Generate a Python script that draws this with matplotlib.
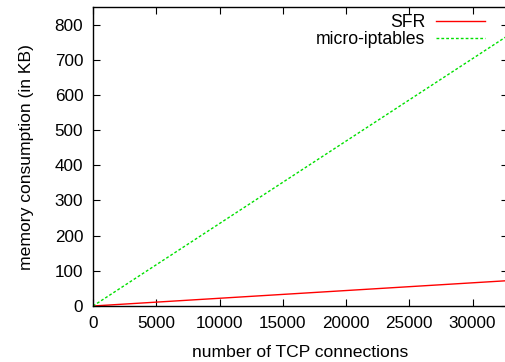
import matplotlib
matplotlib.use("Agg")
import matplotlib.pyplot as plt

plt.rcParams['font.family'] = ['Liberation Sans', 'DejaVu Sans']

connections = [0, 8192, 16384, 24576, 32768]
sfr_kb = [0, 18, 36, 54, 72]
iptables_kb = [0, 192, 384, 576, 768]
xticks = [0, 5000, 10000, 15000, 20000, 25000, 30000]
yticks = [0, 100, 200, 300, 400, 500, 600, 700, 800]

FS = 12.3

fig = plt.figure(figsize=(5.06, 3.62), dpi=100)
ax = fig.add_axes([93/506, 56/362, 1.003 - 93/506, (306-7)/362])

l1, = ax.plot(connections, sfr_kb, color='#ff0000', lw=1.0, label='SFR')
l2, = ax.plot(connections, iptables_kb, color='#00e000', lw=1.0, dashes=(2, 1.5), label='micro-iptables')

ax.set_xlim(0, 32768)
ax.set_ylim(0, 850)
ax.set_xticks(xticks)
ax.set_yticks(yticks)
ax.tick_params(direction='in', top=True, right=True, length=5, width=0.8, labelsize=FS, pad=7)
for s in ax.spines.values():
    s.set_linewidth(1.0)

ax.set_xlabel('number of TCP connections', fontsize=FS + 0.3, labelpad=10)
ax.set_ylabel('memory consumption (in KB)', fontsize=FS + 0.3, labelpad=15)

leg = ax.legend(handles=[l1, l2], loc='upper right', frameon=False, fontsize=FS + 0.4,
                markerfirst=False, handlelength=2.8, handletextpad=0.6,
                borderpad=0, borderaxespad=0, labelspacing=0.0,
                bbox_to_anchor=(0.946, 0.975))
for t in leg.get_texts():
    t.set_ha('right')

fig.savefig('out.png', dpi=100)
